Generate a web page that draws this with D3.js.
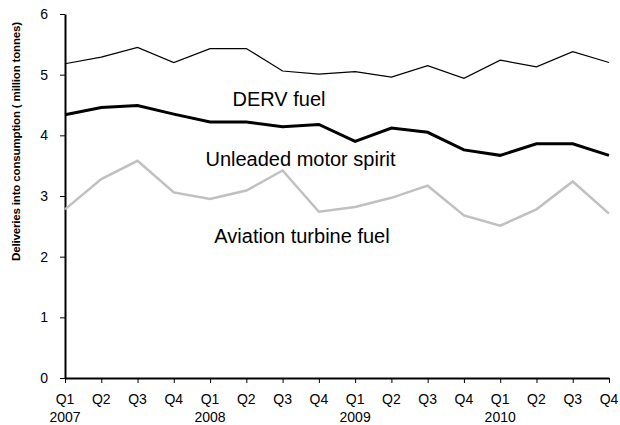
<!DOCTYPE html>
<html><head><meta charset="utf-8">
<script src="https://cdn.jsdelivr.net/npm/d3@7"></script>
<style>
html,body{margin:0;padding:0;background:#fff;}
text{font-family:"Liberation Sans",Arial,sans-serif;fill:#000;}
</style></head>
<body>
<svg id="chart" width="620" height="425"></svg>
<script>
const quarters = ["Q1","Q2","Q3","Q4","Q1","Q2","Q3","Q4","Q1","Q2","Q3","Q4","Q1","Q2","Q3","Q4"];
const years = ["2007","","","","2008","","","","2009","","","","2010","","",""];
const derv = [5.18,5.29,5.45,5.20,5.43,5.43,5.06,5.01,5.05,4.96,5.15,4.94,5.24,5.13,5.38,5.20];
const unleaded = [4.34,4.46,4.49,4.35,4.22,4.22,4.14,4.18,3.90,4.12,4.05,3.76,3.67,3.86,3.86,3.67];
const aviation = [2.78,3.28,3.58,3.06,2.95,3.09,3.42,2.74,2.82,2.97,3.17,2.68,2.51,2.78,3.24,2.71];
const yTicks = [0,1,2,3,4,5,6];
const seriesNames = ["DERV fuel","Unleaded motor spirit","Aviation turbine fuel"];

const svg = d3.select("#chart");
const idx = d3.range(quarters.length);
const x = d3.scaleLinear().domain([0, quarters.length-1]).range([65, 609]);
const y = d3.scaleLinear().domain([0,6]).range([378, 14]);

// y axis
const yAxis = svg.append("g").attr("transform","translate(65,0)")
  .call(d3.axisLeft(y).tickValues(yTicks).tickFormat(d3.format("d")).tickSize(5).tickSizeOuter(0).tickPadding(12));
yAxis.select(".domain").attr("stroke","#000").attr("stroke-width",2);
yAxis.selectAll(".tick line").attr("stroke","#000").attr("stroke-width",1);
yAxis.selectAll(".tick text").attr("font-size","14px").attr("font-family","Liberation Sans, Arial, sans-serif").attr("fill","#000");

// x axis
const xAxis = svg.append("g").attr("transform","translate(0,378)")
  .call(d3.axisBottom(x).tickValues(idx).tickSize(5).tickSizeOuter(0).tickFormat(""));
xAxis.select(".domain").attr("stroke","#000").attr("stroke-width",2);
xAxis.selectAll(".tick line").attr("stroke","#000").attr("stroke-width",1);
const xl = svg.append("g");
xl.selectAll("text.q").data(idx).enter().append("text")
  .attr("x", i => x(i)).attr("y", 404).attr("text-anchor","middle")
  .attr("font-size","14px").text(i => quarters[i]);
xl.selectAll("text.yr").data(idx.filter(i => years[i])).enter().append("text")
  .attr("x", i => x(i)).attr("y", 421.5).attr("text-anchor","middle")
  .attr("font-size","14px").text(i => years[i]);

// y title
svg.append("text").attr("transform","translate(20,141.5) rotate(-90)")
  .attr("text-anchor","middle").attr("font-size","11.6px").attr("font-weight","bold")
  .attr("letter-spacing","-0.2px")
  .text("Deliveries into consumption ( million tonnes)");

const line = d3.line().x((d,i) => x(i)).y(d => y(d));
const series = [
  {vals: aviation, color:"#c0c0c0", w:2.5},
  {vals: derv, color:"#000", w:1.2},
  {vals: unleaded, color:"#000", w:3}
];
svg.selectAll("path.s").data(series).enter().append("path")
  .attr("fill","none").attr("stroke", d => d.color).attr("stroke-width", d => d.w)
  .attr("stroke-linejoin","miter").attr("d", d => line(d.vals));

// labels
const labelPos = [[279,106],[300.5,166],[302,243]];
svg.selectAll("text.lab").data(seriesNames).enter().append("text")
  .attr("x",(d,i)=>labelPos[i][0]).attr("y",(d,i)=>labelPos[i][1])
  .attr("text-anchor","middle").attr("font-size","20px").text(d => d);
</script>
</body></html>
